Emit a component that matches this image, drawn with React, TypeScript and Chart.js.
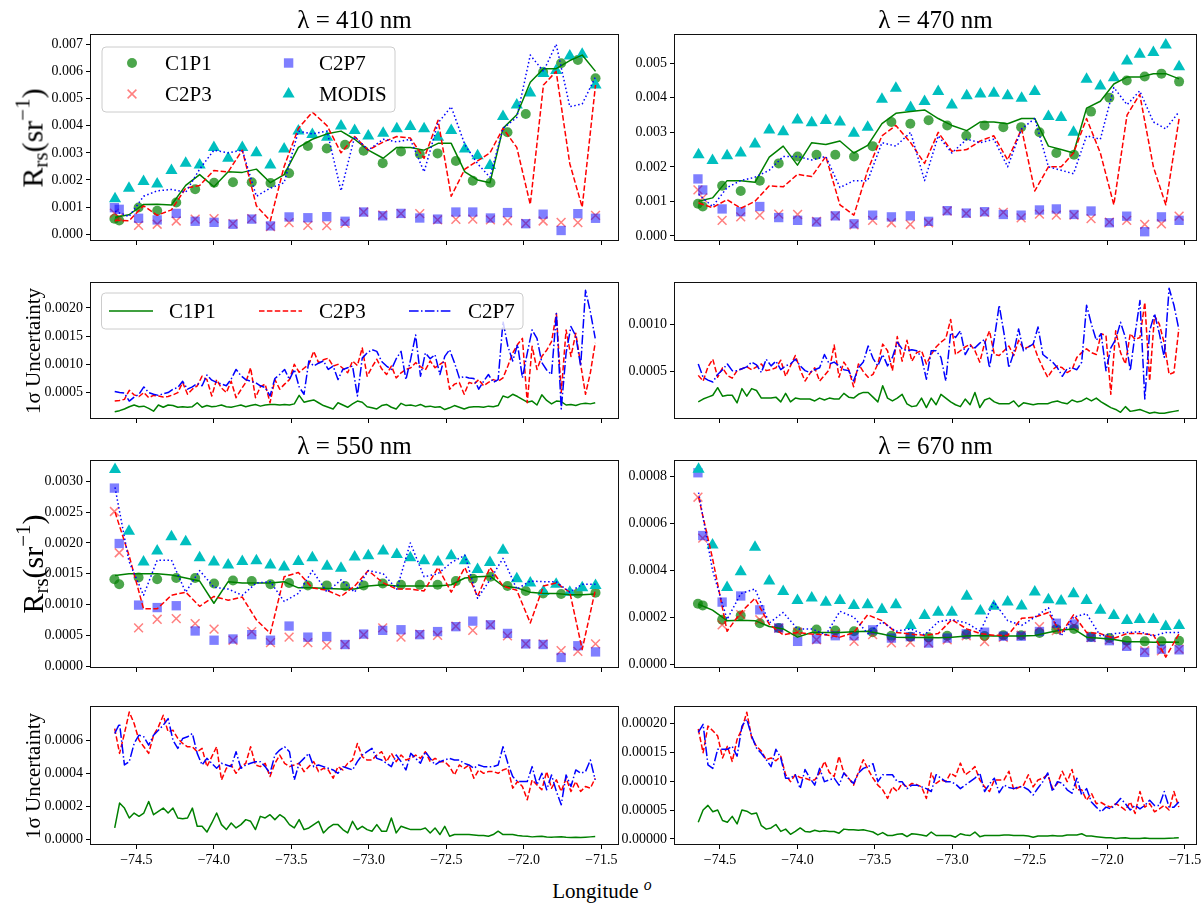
import React, { useEffect, useRef } from "react";
import { Chart, registerables } from "chart.js";

Chart.register(...registerables);

const FONT = '"Liberation Serif", "Times New Roman", Times, serif';

// Longitudes of the in-situ matchup stations and of the MODIS pixels
const STATION_LON = [
  -74.642, -74.611, -74.486, -74.366, -74.243, -74.121, -73.999, -73.877, -73.756, -73.635,
  -73.515, -73.394, -73.272, -73.154, -73.034, -72.911, -72.793, -72.672, -72.557, -72.439,
  -72.33, -72.216, -72.106, -71.988, -71.876, -71.76, -71.652, -71.538,
];
const MODIS_LON = [
  -74.638, -74.548, -74.454, -74.366, -74.274, -74.182, -74.092, -74.0, -73.908, -73.817,
  -73.726, -73.636, -73.547, -73.455, -73.365, -73.27, -73.18, -73.092, -73.004, -72.908,
  -72.82, -72.733, -72.644, -72.554, -72.469, -72.381, -72.299, -72.219, -72.135, -72.046,
  -71.959, -71.874, -71.792, -71.704, -71.624, -71.538,
];
const X_TICKS = [-74.5, -74.0, -73.5, -73.0, -72.5, -72.0, -71.5];

// ---- Rrs at 410 nm (sr^-1) ----
const RRS410_C1P1 = [0.00057, 0.00051, 0.00099, 0.00087, 0.00117, 0.00166, 0.0019, 0.00192, 0.00192, 0.00189, 0.00225, 0.00325, 0.00316, 0.0033, 0.00308, 0.00262, 0.00305, 0.00296, 0.00298, 0.0027, 0.00197, 0.0019, 0.00376, 0.00443, 0.00598, 0.0063, 0.00642, 0.00575];
const RRS410_C2P3 = [0.00078, 0.00062, 0.00033, 0.00037, 0.00049, 0.00056, 0.00058, 0.00039, 0.00058, 0.00028, 0.00043, 0.00033, 0.00032, 0.0004, 0.00082, 0.00071, 0.00076, 0.00076, 0.00053, 0.00055, 0.00056, 0.00053, 0.0005, 0.0004, 0.00049, 0.00044, 0.00043, 0.0007];
const RRS410_C2P7 = [0.00098, 0.00092, 0.00059, 0.00053, 0.00077, 0.00048, 0.00044, 0.00037, 0.00056, 0.00031, 0.00064, 0.00061, 0.00065, 0.00048, 0.00082, 0.00068, 0.00077, 0.0006, 0.00056, 0.00082, 0.00082, 0.0006, 0.0008, 0.00039, 0.00074, 0.00014, 0.00076, 0.00059];
const RRS410_MODIS = [0.00131, 0.0017, 0.00194, 0.00185, 0.00235, 0.00262, 0.00255, 0.0032, 0.0028, 0.0032, 0.003, 0.00255, 0.00314, 0.0038, 0.00368, 0.00357, 0.00399, 0.00382, 0.00362, 0.00372, 0.00389, 0.00397, 0.00389, 0.00357, 0.00382, 0.00314, 0.00289, 0.00253, 0.00434, 0.00476, 0.0052, 0.00592, 0.00603, 0.00657, 0.00663, 0.0055];
const RRS410_PIX_C1P1 = [0.00063, 0.00072, 0.0011, 0.00111, 0.00108, 0.0018, 0.0022, 0.00175, 0.0023, 0.00228, 0.0024, 0.0019, 0.0022, 0.0032, 0.0035, 0.0037, 0.0038, 0.0035, 0.0031, 0.0028, 0.0032, 0.0032, 0.0031, 0.00335, 0.00335, 0.0023, 0.002, 0.0019, 0.0039, 0.0044, 0.0056, 0.0061, 0.0061, 0.0064, 0.0066, 0.006];
const RRS410_PIX_C2P3 = [0.00052, 0.0005, 0.00105, 0.0007, 0.0009, 0.0017, 0.0018, 0.00235, 0.0023, 0.0031, 0.00105, 0.0005, 0.0025, 0.0039, 0.0045, 0.004, 0.003, 0.0036, 0.0031, 0.0034, 0.0036, 0.00355, 0.0028, 0.0042, 0.0014, 0.0024, 0.0027, 0.003, 0.0039, 0.0032, 0.0011, 0.0055, 0.006, 0.0026, 0.001, 0.0055];
const RRS410_PIX_C2P7 = [0.00085, 0.00065, 0.0014, 0.0016, 0.00165, 0.00155, 0.0024, 0.0031, 0.003, 0.0031, 0.0014, 0.0017, 0.0019, 0.0038, 0.0037, 0.0038, 0.0016, 0.0036, 0.0031, 0.0035, 0.0034, 0.0035, 0.0023, 0.0041, 0.0047, 0.0033, 0.0026, 0.0021, 0.0039, 0.0043, 0.0066, 0.006, 0.007, 0.0047, 0.0048, 0.0058];

// ---- Rrs at 470 nm ----
const RRS470_C1P1 = [0.00093, 0.00085, 0.00145, 0.0013, 0.0016, 0.0021, 0.0023, 0.00235, 0.00235, 0.0023, 0.0026, 0.0033, 0.00325, 0.00335, 0.0032, 0.0029, 0.0032, 0.00315, 0.00315, 0.003, 0.0024, 0.00235, 0.0036, 0.004, 0.0045, 0.00462, 0.0047, 0.00447];
const RRS470_C2P3 = [0.00133, 0.0011, 0.00045, 0.00055, 0.0006, 0.00063, 0.00062, 0.00042, 0.00058, 0.00032, 0.00045, 0.00038, 0.00033, 0.00038, 0.00072, 0.00065, 0.00068, 0.00068, 0.00052, 0.00063, 0.0006, 0.0006, 0.0005, 0.0004, 0.00045, 0.00033, 0.00035, 0.00057];
const RRS470_C2P7 = [0.00165, 0.00133, 0.00078, 0.0007, 0.00085, 0.00053, 0.00045, 0.0004, 0.00058, 0.00035, 0.0006, 0.00055, 0.00058, 0.00042, 0.00073, 0.00066, 0.0007, 0.00062, 0.0006, 0.00075, 0.00078, 0.00062, 0.00072, 0.00038, 0.00057, 0.00012, 0.00055, 0.00045];
const RRS470_MODIS = [0.00235, 0.00218, 0.00232, 0.0024, 0.00266, 0.00307, 0.00302, 0.00336, 0.00328, 0.00334, 0.0033, 0.00297, 0.00315, 0.00396, 0.00428, 0.00372, 0.00389, 0.00418, 0.00379, 0.00406, 0.00411, 0.00413, 0.00406, 0.00399, 0.00418, 0.00346, 0.00343, 0.003, 0.00454, 0.00434, 0.00458, 0.00507, 0.00526, 0.00531, 0.00553, 0.0049];
const RRS470_PIX_C1P1 = [0.001, 0.0011, 0.0016, 0.0016, 0.00155, 0.00228, 0.0026, 0.00205, 0.0027, 0.00265, 0.00275, 0.0024, 0.00262, 0.00325, 0.00355, 0.0036, 0.00365, 0.0034, 0.0032, 0.00305, 0.0033, 0.0033, 0.00325, 0.0034, 0.0034, 0.0026, 0.0025, 0.0024, 0.0037, 0.0039, 0.0044, 0.0046, 0.0046, 0.0047, 0.0047, 0.00455];
const RRS470_PIX_C2P3 = [0.00095, 0.00082, 0.00105, 0.0008, 0.001, 0.00145, 0.00142, 0.00178, 0.00172, 0.0023, 0.0009, 0.0006, 0.0019, 0.0029, 0.0032, 0.0027, 0.0021, 0.003, 0.00245, 0.0025, 0.00275, 0.0029, 0.0022, 0.0031, 0.0013, 0.002, 0.002, 0.0024, 0.0034, 0.0024, 0.0009, 0.0035, 0.0041, 0.002, 0.0009, 0.0034];
const RRS470_PIX_C2P7 = [0.0012, 0.00085, 0.0014, 0.0016, 0.0017, 0.0019, 0.0023, 0.0023, 0.0022, 0.0023, 0.0014, 0.0016, 0.0016, 0.0027, 0.0026, 0.003, 0.0016, 0.0029, 0.0024, 0.0028, 0.0027, 0.0028, 0.002, 0.0031, 0.0034, 0.002, 0.0019, 0.0018, 0.0029, 0.0028, 0.0043, 0.0038, 0.0042, 0.0033, 0.0031, 0.0036];

// ---- Rrs at 550 nm ----
const RRS550_C1P1 = [0.00141, 0.00133, 0.00144, 0.00141, 0.00143, 0.00143, 0.00134, 0.00139, 0.00138, 0.00133, 0.00135, 0.00131, 0.00131, 0.0013, 0.00131, 0.00134, 0.00132, 0.00132, 0.00132, 0.00138, 0.00142, 0.00145, 0.0013, 0.00122, 0.00118, 0.00117, 0.00118, 0.00119];
const RRS550_C2P3 = [0.00251, 0.00184, 0.00062, 0.00076, 0.00077, 0.00069, 0.0006, 0.00042, 0.00056, 0.00038, 0.00047, 0.00038, 0.00034, 0.00035, 0.00051, 0.00062, 0.00047, 0.00052, 0.0005, 0.00065, 0.00058, 0.00067, 0.00049, 0.00036, 0.00036, 0.00025, 0.00024, 0.00036];
const RRS550_C2P7 = [0.00289, 0.00199, 0.00099, 0.00095, 0.00098, 0.00057, 0.00042, 0.00044, 0.00051, 0.00042, 0.00065, 0.00047, 0.00048, 0.00035, 0.00052, 0.00058, 0.00059, 0.00051, 0.00056, 0.00064, 0.00073, 0.00067, 0.00053, 0.00036, 0.00035, 0.00014, 0.00033, 0.00023];
const RRS550_MODIS = [0.00319, 0.00219, 0.00169, 0.00187, 0.0021, 0.00202, 0.00176, 0.00169, 0.00164, 0.0017, 0.00171, 0.00164, 0.00161, 0.0017, 0.00176, 0.00162, 0.00159, 0.00177, 0.00179, 0.00187, 0.00181, 0.00176, 0.00171, 0.00169, 0.00179, 0.00171, 0.00157, 0.00168, 0.00188, 0.00142, 0.00135, 0.00121, 0.00133, 0.0012, 0.00127, 0.00131];
const RRS550_PIX_C1P1 = [0.00147, 0.0015, 0.0015, 0.0015, 0.00148, 0.00143, 0.00138, 0.00102, 0.00137, 0.00135, 0.00135, 0.00135, 0.00137, 0.00127, 0.00127, 0.00126, 0.00125, 0.00125, 0.0013, 0.00132, 0.0013, 0.0013, 0.0013, 0.0013, 0.00132, 0.00143, 0.00145, 0.00146, 0.0013, 0.00127, 0.0012, 0.00118, 0.00118, 0.00116, 0.00116, 0.00117];
const RRS550_PIX_C2P3 = [0.0025, 0.0018, 0.00093, 0.00093, 0.00115, 0.0012, 0.00097, 0.00113, 0.00107, 0.00112, 0.00075, 0.00053, 0.00145, 0.00152, 0.00127, 0.00123, 0.00113, 0.0013, 0.00155, 0.00135, 0.00125, 0.00125, 0.00122, 0.0016, 0.0012, 0.0016, 0.00113, 0.0016, 0.0013, 0.00123, 0.0007, 0.0013, 0.00135, 0.0012, 0.00027, 0.00125];
const RRS550_PIX_C2P7 = [0.0029, 0.0017, 0.00115, 0.00172, 0.00172, 0.0012, 0.00155, 0.00128, 0.00125, 0.00115, 0.00135, 0.00137, 0.00105, 0.00118, 0.00155, 0.0012, 0.0014, 0.0012, 0.00155, 0.0015, 0.00125, 0.002, 0.00145, 0.0015, 0.00168, 0.0018, 0.0011, 0.0014, 0.00175, 0.00125, 0.00138, 0.00137, 0.00137, 0.0012, 0.00133, 0.00133];

// ---- Rrs at 670 nm ----
const RRS670_C1P1 = [0.000257, 0.00025, 0.000189, 0.000207, 0.000174, 0.000154, 0.00014, 0.000147, 0.000143, 0.00014, 0.000136, 0.000121, 0.000117, 0.000114, 0.000121, 0.000126, 0.00012, 0.000123, 0.000123, 0.000133, 0.000149, 0.00015, 0.000117, 0.000111, 0.0001, 0.000097, 0.000097, 0.0001];
const RRS670_C2P3 = [0.00071, 0.000536, 0.000167, 0.000211, 0.000189, 0.000153, 0.000136, 0.000104, 0.000129, 0.000097, 0.000126, 0.000091, 0.000093, 0.00009, 0.000104, 0.000121, 0.000096, 0.000114, 0.000123, 0.00016, 0.000143, 0.000164, 0.000113, 0.000103, 0.000079, 0.000057, 0.000057, 0.000064];
const RRS670_C2P7 = [0.000814, 0.000547, 0.000264, 0.00029, 0.000231, 0.000154, 0.000097, 0.000107, 0.000121, 0.000121, 0.000146, 0.000111, 0.000117, 0.00009, 0.000111, 0.000129, 0.000136, 0.000119, 0.000119, 0.000139, 0.000174, 0.000171, 0.000114, 0.0001, 0.000076, 0.00005, 0.000064, 0.000061];
const RRS670_MODIS = [0.000829, 0.000507, 0.000326, 0.000393, 0.000497, 0.000354, 0.000309, 0.000271, 0.000281, 0.000263, 0.000271, 0.00025, 0.000253, 0.000233, 0.000253, 0.000164, 0.000207, 0.000221, 0.000221, 0.000289, 0.000226, 0.000246, 0.000264, 0.000247, 0.000307, 0.000274, 0.000269, 0.0003, 0.000271, 0.000229, 0.000207, 0.000186, 0.00019, 0.00019, 0.00016, 0.000164];
const RRS670_PIX_C1P1 = [0.000255, 0.00023, 0.000185, 0.000187, 0.000185, 0.00016, 0.00015, 0.000115, 0.000135, 0.000135, 0.000135, 0.000138, 0.00014, 0.000128, 0.000115, 0.000113, 0.000113, 0.000112, 0.000114, 0.00012, 0.000122, 0.00012, 0.00012, 0.00012, 0.000122, 0.000135, 0.000145, 0.00015, 0.000115, 0.00011, 0.000105, 0.000095, 0.000095, 0.000093, 0.000094, 0.000093];
const RRS670_PIX_C2P3 = [0.00071, 0.00045, 0.00014, 0.00022, 0.00028, 0.00017, 0.000125, 0.000135, 0.000128, 0.000125, 0.000115, 0.000135, 0.00021, 0.000185, 0.000135, 0.000128, 0.000123, 0.00013, 0.00019, 0.00015, 0.00013, 0.000123, 0.000122, 0.000195, 0.0002, 0.00022, 0.00013, 0.00021, 0.000135, 0.00013, 0.00011, 0.00013, 0.00013, 0.000125, 0.00003, 0.00013];
const RRS670_PIX_C2P7 = [0.00073, 0.0004, 0.00019, 0.0003, 0.00032, 0.000175, 0.00022, 0.00015, 0.00015, 0.000125, 0.000225, 0.0002, 0.00013, 0.00018, 0.00014, 0.00015, 0.000125, 0.00018, 0.00019, 0.000175, 0.00014, 0.000265, 0.000185, 0.000165, 0.0002, 0.00024, 0.00012, 0.0002, 0.000215, 0.00012, 0.00013, 0.000135, 0.000138, 0.00012, 0.000135, 0.000135];

// ---- 1-sigma uncertainty profiles along the transect ----
const UNC_LON_START = -74.64;
const UNC_LON_END = -71.54;
const UNC_COUNT = 100;
const UNC_LON = Array.from({ length: UNC_COUNT }, (_, i) => UNC_LON_START + (i * (UNC_LON_END - UNC_LON_START)) / (UNC_COUNT - 1));

// 410 nm, in units of 1e-4 sr^-1
const UNC410_C1P1 = [1.6, 1.8, 2.1, 2.5, 2.8, 2.5, 2.6, 2.2, 1.7, 2.8, 2.4, 2.8, 2.7, 2.4, 2.5, 2.4, 2.5, 3.2, 2.4, 2.7, 2.5, 2.6, 2.8, 2.5, 2.4, 2.6, 2.8, 2.5, 2.7, 2.9, 2.6, 2.8, 2.9, 2.9, 2.8, 2.9, 2.8, 3.0, 4.5, 3.3, 3.5, 3.7, 3.2, 2.7, 2.4, 2.1, 3.2, 2.8, 2.4, 3.0, 3.5, 3.3, 2.5, 2.3, 2.1, 2.7, 2.9, 2.4, 2.1, 3.1, 2.7, 2.8, 2.6, 2.9, 2.5, 2.6, 2.4, 2.5, 2.0, 2.3, 2.7, 2.4, 2.1, 2.4, 2.5, 2.5, 2.4, 2.6, 2.5, 2.7, 4.4, 4.1, 4.7, 4.3, 3.8, 3.3, 3.5, 2.8, 4.6, 3.6, 3.0, 3.5, 3.4, 2.8, 2.9, 2.7, 3.0, 3.1, 3.0, 3.2];
const UNC410_C2P3 = [3.5, 3.6, 3.8, 5.4, 4.6, 4.3, 5.0, 4.1, 4.5, 4.4, 4.2, 4.3, 4.6, 5.0, 6.8, 4.7, 5.6, 6.2, 7.9, 7.3, 4.4, 7.3, 5.8, 5.0, 7.0, 4.1, 5.5, 6.8, 9.4, 4.1, 6.0, 6.5, 3.2, 7.3, 5.6, 6.5, 7.3, 10.0, 8.6, 9.3, 10.0, 12.3, 10.3, 10.8, 11.1, 9.7, 10.0, 9.3, 8.5, 10.6, 9.8, 12.9, 7.9, 9.5, 10.9, 9.2, 8.2, 9.7, 7.6, 8.5, 9.1, 9.4, 10.3, 9.6, 9.0, 10.6, 9.4, 10.0, 10.6, 5.6, 6.5, 6.8, 4.7, 6.8, 6.5, 7.3, 6.2, 6.8, 7.3, 7.0, 7.6, 9.7, 12.0, 13.5, 14.6, 3.2, 13.2, 9.1, 11.4, 12.5, 14.0, 19.0, 5.0, 16.1, 11.4, 15.5, 10.0, 4.7, 8.5, 13.8];
const UNC410_C2P7 = [5.2, 5.0, 4.9, 3.5, 4.2, 4.7, 6.0, 5.0, 4.7, 4.5, 4.8, 5.0, 5.6, 5.9, 7.0, 5.6, 6.0, 6.6, 6.2, 8.1, 7.2, 6.8, 6.5, 6.2, 7.4, 9.1, 8.0, 7.3, 7.0, 6.8, 6.2, 5.9, 4.4, 7.5, 8.2, 9.1, 7.3, 9.1, 6.0, 4.7, 10.6, 9.7, 10.2, 10.6, 9.1, 9.7, 7.3, 9.1, 9.4, 9.7, 4.4, 11.1, 12.0, 12.6, 12.3, 10.5, 9.7, 9.1, 11.0, 12.3, 7.3, 11.0, 15.2, 7.9, 12.0, 11.0, 11.7, 8.2, 11.4, 12.6, 10.3, 7.6, 7.8, 7.6, 7.5, 5.6, 7.0, 8.2, 6.8, 7.3, 17.6, 13.2, 10.6, 13.5, 7.6, 12.0, 16.1, 14.6, 10.3, 9.0, 8.2, 19.0, 2.1, 12.0, 16.7, 15.0, 9.7, 23.1, 19.3, 14.6];

// 470 nm, in units of 1e-4 sr^-1
const UNC470_C1P1 = [1.8, 2.1, 2.3, 2.5, 3.3, 2.4, 2.5, 2.5, 1.7, 3.2, 2.4, 3.2, 3.0, 2.2, 2.2, 2.2, 2.3, 1.8, 2.7, 1.8, 2.2, 2.1, 2.1, 2.1, 1.9, 2.2, 2.0, 2.2, 2.1, 2.1, 2.7, 2.3, 2.2, 2.6, 2.8, 2.8, 2.3, 1.8, 3.5, 2.2, 1.9, 2.2, 2.6, 1.6, 1.3, 1.4, 2.2, 1.2, 2.2, 1.5, 2.6, 2.2, 1.8, 1.5, 1.3, 2.1, 1.5, 2.8, 1.2, 2.0, 2.2, 1.8, 1.6, 1.6, 1.6, 1.9, 1.3, 1.7, 1.6, 1.5, 1.6, 1.6, 1.6, 1.8, 1.9, 1.7, 1.6, 2.0, 1.8, 1.9, 2.2, 1.9, 2.2, 1.8, 1.5, 1.2, 1.0, 0.7, 1.3, 0.8, 0.9, 1.0, 0.8, 0.6, 0.7, 0.6, 0.6, 0.7, 0.8, 0.9];
const UNC470_C2P3 = [4.6, 4.0, 5.5, 6.3, 4.4, 5.4, 4.6, 4.3, 5.1, 5.3, 5.5, 5.2, 5.5, 5.8, 5.1, 5.2, 5.4, 6.2, 4.5, 5.6, 6.7, 5.2, 4.0, 4.8, 5.4, 4.0, 4.6, 5.2, 7.8, 4.4, 6.0, 5.2, 3.4, 5.8, 5.0, 4.4, 4.7, 5.8, 7.9, 7.2, 5.1, 8.7, 6.1, 8.3, 6.1, 7.0, 7.2, 5.8, 6.8, 7.6, 8.1, 8.5, 10.5, 6.8, 7.2, 7.6, 7.9, 7.2, 6.0, 8.0, 9.3, 6.8, 6.7, 7.2, 7.7, 6.7, 8.3, 7.4, 7.6, 7.9, 6.5, 5.4, 4.4, 5.2, 5.6, 5.4, 4.9, 5.2, 6.5, 7.0, 7.4, 7.0, 6.8, 9.0, 8.8, 2.6, 9.3, 7.0, 5.8, 9.0, 8.4, 8.6, 12.3, 4.0, 10.9, 10.0, 8.0, 4.7, 4.9, 9.5];
const UNC470_C2P7 = [5.8, 4.4, 4.1, 3.9, 4.7, 5.2, 5.8, 5.1, 5.1, 5.3, 5.5, 6.0, 5.7, 4.9, 6.3, 5.6, 6.1, 5.2, 5.6, 5.8, 6.3, 5.6, 5.1, 4.9, 5.2, 5.4, 6.8, 5.8, 6.0, 5.6, 5.2, 5.1, 4.0, 5.4, 6.0, 7.7, 6.4, 5.6, 6.8, 5.6, 6.5, 8.1, 7.4, 7.2, 7.3, 7.2, 6.5, 4.2, 7.2, 7.2, 6.5, 4.0, 9.1, 8.6, 9.3, 6.8, 7.7, 7.5, 8.0, 8.4, 5.4, 8.5, 12.0, 9.0, 5.4, 7.0, 9.5, 7.2, 7.6, 7.9, 9.7, 6.8, 6.4, 6.0, 5.4, 4.5, 5.3, 5.4, 5.2, 6.0, 12.0, 10.0, 8.3, 9.0, 5.1, 7.5, 8.4, 10.2, 8.6, 5.1, 9.0, 12.5, 2.1, 9.3, 11.1, 9.0, 6.5, 13.8, 12.0, 9.5];

// 550 nm, in units of 1e-4 sr^-1
const UNC550_C1P1 = [0.7, 2.2, 1.9, 1.3, 1.6, 1.4, 1.6, 2.3, 1.5, 1.7, 1.9, 1.6, 1.9, 1.3, 1.25, 1.3, 1.9, 0.8, 0.8, 0.45, 1.0, 1.6, 0.9, 0.6, 1.0, 0.7, 0.9, 1.2, 1.1, 0.6, 1.4, 1.3, 1.5, 1.2, 1.5, 1.3, 0.9, 0.7, 1.2, 0.6, 0.7, 0.9, 1.1, 0.4, 0.7, 0.9, 0.9, 0.6, 0.4, 1.1, 0.6, 0.8, 0.6, 0.5, 0.9, 0.5, 0.5, 1.3, 0.4, 0.8, 0.7, 0.6, 0.6, 0.6, 0.7, 0.4, 0.7, 0.3, 0.8, 0.2, 0.3, 0.3, 0.3, 0.3, 0.28, 0.25, 0.25, 0.2, 0.3, 0.5, 0.3, 0.3, 0.3, 0.25, 0.22, 0.2, 0.16, 0.18, 0.2, 0.15, 0.14, 0.16, 0.17, 0.14, 0.12, 0.13, 0.12, 0.14, 0.16, 0.18];
const UNC550_C2P3 = [6.7, 5.2, 6.4, 7.7, 7.0, 6.0, 5.6, 5.2, 6.3, 6.8, 7.5, 6.5, 6.6, 6.1, 5.8, 5.6, 5.6, 5.3, 5.5, 4.4, 5.0, 5.6, 3.6, 4.3, 4.5, 4.0, 4.4, 4.6, 5.6, 4.5, 4.4, 4.6, 3.8, 4.6, 5.1, 4.6, 4.4, 4.5, 4.6, 4.1, 4.4, 4.7, 4.1, 4.3, 4.2, 3.7, 4.4, 4.2, 4.6, 4.8, 5.8, 5.0, 4.8, 4.8, 5.1, 5.3, 4.7, 5.2, 4.7, 5.1, 4.8, 4.9, 5.1, 4.9, 5.3, 4.7, 4.9, 4.7, 4.7, 4.4, 3.9, 4.5, 4.3, 4.5, 3.7, 4.2, 4.0, 4.1, 4.1, 4.0, 4.2, 4.3, 3.1, 3.5, 3.2, 2.4, 3.6, 3.3, 3.0, 4.1, 3.1, 3.6, 2.9, 3.7, 2.9, 3.5, 2.9, 3.2, 3.1, 3.7];
const UNC550_C2P7 = [6.4, 7.0, 4.5, 4.7, 5.8, 6.3, 6.2, 5.7, 6.3, 6.6, 6.9, 7.3, 6.0, 5.5, 6.1, 6.2, 6.4, 5.2, 4.5, 4.9, 4.6, 4.3, 4.6, 4.5, 4.4, 5.3, 4.3, 4.5, 4.6, 4.7, 4.7, 4.4, 4.0, 5.1, 5.4, 5.6, 5.3, 3.6, 4.6, 4.9, 5.2, 4.4, 4.5, 4.4, 4.3, 4.2, 4.0, 4.4, 4.3, 4.2, 4.7, 5.1, 5.3, 5.5, 4.9, 4.8, 4.6, 4.4, 5.1, 4.7, 4.2, 5.2, 4.9, 4.6, 5.3, 4.9, 4.5, 4.7, 4.8, 4.9, 4.8, 4.8, 4.6, 4.5, 4.3, 4.5, 4.4, 4.4, 4.4, 4.5, 5.6, 4.6, 3.8, 3.5, 3.5, 3.5, 4.4, 3.3, 4.0, 3.0, 3.9, 2.9, 2.1, 3.9, 3.2, 4.2, 4.0, 4.1, 4.8, 3.6];

// 670 nm, in units of 1e-5 sr^-1
const UNC670_C1P1 = [2.9, 5.0, 5.8, 4.7, 5.0, 3.2, 2.9, 3.9, 2.6, 5.0, 4.8, 4.3, 4.5, 2.3, 1.7, 1.9, 2.5, 1.3, 1.7, 0.8, 1.3, 1.9, 1.3, 1.2, 1.5, 1.3, 1.4, 1.3, 1.3, 1.0, 1.7, 1.6, 1.6, 1.5, 1.6, 1.4, 1.2, 0.7, 1.1, 0.6, 0.6, 0.8, 0.9, 0.4, 0.9, 0.8, 0.7, 0.5, 1.2, 0.6, 0.6, 0.6, 0.6, 0.3, 0.9, 0.7, 0.6, 1.2, 0.4, 0.6, 0.6, 0.6, 0.6, 0.7, 0.7, 0.6, 0.6, 0.6, 0.5, 0.3, 0.5, 0.5, 0.5, 0.6, 0.5, 0.5, 0.7, 0.7, 0.7, 0.9, 0.5, 0.5, 0.4, 0.3, 0.2, 0.2, 0.1, 0.15, 0.2, 0.1, 0.06, 0.1, 0.17, 0.1, 0.06, 0.08, 0.1, 0.12, 0.15, 0.2];
const UNC670_C2P3 = [19.0, 14.9, 19.5, 18.7, 17.8, 14.0, 16.0, 13.4, 17.2, 19.0, 21.9, 17.5, 16.0, 15.2, 13.7, 14.0, 13.5, 14.3, 11.1, 9.9, 11.1, 10.6, 10.5, 10.2, 10.2, 11.4, 13.4, 11.5, 10.8, 14.3, 11.4, 10.5, 9.3, 11.5, 13.7, 12.0, 10.5, 9.3, 8.5, 7.0, 9.0, 8.2, 9.6, 9.0, 9.6, 9.4, 9.0, 7.0, 11.4, 9.6, 10.2, 9.9, 11.4, 10.8, 13.1, 11.1, 11.7, 12.5, 10.2, 9.0, 8.2, 10.2, 10.2, 10.2, 11.7, 8.5, 8.9, 9.3, 11.1, 9.0, 10.2, 10.5, 11.1, 8.7, 9.6, 11.7, 9.9, 12.0, 8.5, 8.5, 6.7, 7.9, 6.1, 6.3, 5.8, 5.5, 6.1, 5.6, 5.0, 6.4, 4.4, 8.2, 5.5, 6.1, 4.7, 5.2, 5.8, 5.0, 8.2, 5.5];
const UNC670_C2P7 = [18.4, 19.8, 12.8, 12.2, 15.5, 15.5, 15.5, 16.0, 14.3, 19.5, 20.7, 17.8, 15.7, 14.8, 13.7, 12.5, 15.5, 14.0, 10.5, 10.5, 11.1, 8.7, 12.0, 10.5, 9.3, 12.2, 9.9, 10.2, 10.5, 9.3, 11.4, 10.4, 9.6, 11.4, 12.2, 12.5, 13.0, 9.9, 11.1, 11.1, 11.1, 9.9, 9.9, 8.7, 9.3, 9.3, 9.0, 8.7, 8.2, 11.1, 10.5, 9.9, 9.9, 9.5, 8.7, 9.3, 9.9, 10.5, 11.4, 8.2, 9.5, 10.5, 8.0, 9.3, 8.9, 8.7, 9.0, 9.0, 8.5, 7.6, 8.8, 9.9, 11.4, 8.2, 9.9, 9.6, 8.5, 7.9, 10.5, 7.6, 8.7, 6.4, 5.5, 4.7, 5.5, 5.2, 6.0, 7.0, 6.1, 5.0, 5.8, 5.2, 5.8, 6.7, 5.8, 5.8, 8.2, 5.5, 5.5, 6.4];

// ---- styling ----
const GREEN = "#008000";
const RED = "#ff0000";
const BLUE = "#0000ff";
const C1P1_FILL = "rgba(0, 128, 0, 0.7)";
const C2P3_STROKE = "rgba(255, 0, 0, 0.5)";
const C2P7_FILL = "rgba(0, 0, 255, 0.5)";
const MODIS_FILL = "rgba(0, 191, 191, 1)";
const DASH = [5.5, 2.4];
const DOT = [1.5, 2.5];
const DASH_DOT = [9.6, 2.4, 1.5, 2.4];

const Y_AXIS_W = 70;
const PAD_TOP = 12;
const PAD_RIGHT = 14;

const toPoints = (xs: number[], ys: number[], unit = 1) => xs.map((x, i) => ({ x, y: ys[i] * unit }));

function rrsDatasets(c1: number[], c3: number[], c7: number[], modis: number[], p1: number[], p3: number[], p7: number[]) {
  const line = { pointRadius: 0, pointHoverRadius: 0, borderWidth: 1.5, fill: false, tension: 0, borderJoinStyle: "round" };
  const marker = { showLine: false, pointBorderWidth: 0, pointHoverRadius: 0 };
  return [
    { ...line, label: "C2P7 pixel", data: toPoints(MODIS_LON, p7), borderColor: BLUE, borderDash: DOT, order: 1 },
    { ...line, label: "C2P3 pixel", data: toPoints(MODIS_LON, p3), borderColor: RED, borderDash: DASH, order: 2 },
    { ...line, label: "C1P1 pixel", data: toPoints(MODIS_LON, p1), borderColor: GREEN, order: 3 },
    { ...marker, label: "MODIS", data: toPoints(MODIS_LON, modis), pointStyle: "triangle", pointRadius: 7, pointBackgroundColor: MODIS_FILL, order: 4 },
    { ...marker, label: "C2P7", data: toPoints(STATION_LON, c7), pointStyle: "rect", pointRadius: 6.6, pointBackgroundColor: C2P7_FILL, order: 5 },
    { ...marker, label: "C2P3", data: toPoints(STATION_LON, c3), pointStyle: "crossRot", pointRadius: 6.2, pointBorderColor: C2P3_STROKE, pointBorderWidth: 1.5, order: 6 },
    { ...marker, label: "C1P1", data: toPoints(STATION_LON, c1), pointStyle: "circle", pointRadius: 5, pointBackgroundColor: C1P1_FILL, order: 7 },
  ];
}

function uncDatasets(c1: number[], c3: number[], c7: number[], unit: number) {
  const line = { pointRadius: 0, pointHoverRadius: 0, borderWidth: 1.5, fill: false, tension: 0, borderJoinStyle: "round" };
  return [
    { ...line, label: "C2P7", data: toPoints(UNC_LON, c7, unit), borderColor: BLUE, borderDash: DASH_DOT, order: 1 },
    { ...line, label: "C2P3", data: toPoints(UNC_LON, c3, unit), borderColor: RED, borderDash: DASH, order: 2 },
    { ...line, label: "C1P1", data: toPoints(UNC_LON, c1, unit), borderColor: GREEN, order: 3 },
  ];
}

type PanelSpec = {
  id: string;
  left: number;
  top: number;
  width: number;
  height: number;
  xMin: number;
  xMax: number;
  yMin: number;
  yMax: number;
  yTicks: number[];
  yDecimals: number;
  showXLabels: boolean;
  legend: "markers" | "lines" | null;
  datasets: any[];
};

const LEFT_COL = { left: 91, width: 527, xMin: -74.793, xMax: -71.393 };
const RIGHT_COL = { left: 675, width: 521, xMin: -74.79, xMax: -71.429 };
const ROW1 = { top: 35, height: 205 };
const ROW2 = { top: 283, height: 135 };
const ROW3 = { top: 461, height: 206 };
const ROW4 = { top: 707, height: 137 };

const PANELS: PanelSpec[] = [
  {
    id: "rrs410", ...LEFT_COL, ...ROW1, yMin: -0.00021, yMax: 0.00734,
    yTicks: [0, 0.001, 0.002, 0.003, 0.004, 0.005, 0.006, 0.007], yDecimals: 3, showXLabels: false, legend: "markers",
    datasets: rrsDatasets(RRS410_C1P1, RRS410_C2P3, RRS410_C2P7, RRS410_MODIS, RRS410_PIX_C1P1, RRS410_PIX_C2P3, RRS410_PIX_C2P7),
  },
  {
    id: "rrs470", ...RIGHT_COL, ...ROW1, yMin: -0.00012, yMax: 0.00582,
    yTicks: [0, 0.001, 0.002, 0.003, 0.004, 0.005], yDecimals: 3, showXLabels: false, legend: null,
    datasets: rrsDatasets(RRS470_C1P1, RRS470_C2P3, RRS470_C2P7, RRS470_MODIS, RRS470_PIX_C1P1, RRS470_PIX_C2P3, RRS470_PIX_C2P7),
  },
  {
    id: "unc410", ...LEFT_COL, ...ROW2, yMin: 0.00005, yMax: 0.00244,
    yTicks: [0.0005, 0.001, 0.0015, 0.002], yDecimals: 4, showXLabels: false, legend: "lines",
    datasets: uncDatasets(UNC410_C1P1, UNC410_C2P3, UNC410_C2P7, 1e-4),
  },
  {
    id: "unc470", ...RIGHT_COL, ...ROW2, yMin: 0.00001, yMax: 0.001435,
    yTicks: [0.0005, 0.001], yDecimals: 4, showXLabels: false, legend: null,
    datasets: uncDatasets(UNC470_C1P1, UNC470_C2P3, UNC470_C2P7, 1e-4),
  },
  {
    id: "rrs550", ...LEFT_COL, ...ROW3, yMin: -0.000015, yMax: 0.00333,
    yTicks: [0, 0.0005, 0.001, 0.0015, 0.002, 0.0025, 0.003], yDecimals: 4, showXLabels: false, legend: null,
    datasets: rrsDatasets(RRS550_C1P1, RRS550_C2P3, RRS550_C2P7, RRS550_MODIS, RRS550_PIX_C1P1, RRS550_PIX_C2P3, RRS550_PIX_C2P7),
  },
  {
    id: "rrs670", ...RIGHT_COL, ...ROW3, yMin: -0.000012, yMax: 0.000864,
    yTicks: [0, 0.0002, 0.0004, 0.0006, 0.0008], yDecimals: 4, showXLabels: false, legend: null,
    datasets: rrsDatasets(RRS670_C1P1, RRS670_C2P3, RRS670_C2P7, RRS670_MODIS, RRS670_PIX_C1P1, RRS670_PIX_C2P3, RRS670_PIX_C2P7),
  },
  {
    id: "unc550", ...LEFT_COL, ...ROW4, yMin: -0.000027, yMax: 0.0008,
    yTicks: [0, 0.0002, 0.0004, 0.0006], yDecimals: 4, showXLabels: true, legend: null,
    datasets: uncDatasets(UNC550_C1P1, UNC550_C2P3, UNC550_C2P7, 1e-4),
  },
  {
    id: "unc670", ...RIGHT_COL, ...ROW4, yMin: -0.0000087, yMax: 0.000228,
    yTicks: [0, 0.00005, 0.0001, 0.00015, 0.0002], yDecimals: 5, showXLabels: true, legend: null,
    datasets: uncDatasets(UNC670_C1P1, UNC670_C2P3, UNC670_C2P7, 1e-5),
  },
];

// Axes frame on all four sides
const framePlugin = {
  id: "frame",
  afterDatasetsDraw(chart: any) {
    const { ctx, chartArea: a } = chart;
    ctx.save();
    ctx.strokeStyle = "#111";
    ctx.lineWidth = 1;
    ctx.strokeRect(Math.round(a.left) - 0.5, Math.round(a.top) - 0.5, Math.round(a.right - a.left) + 1, Math.round(a.bottom - a.top) + 1);
    ctx.restore();
  },
};

function roundRect(ctx: CanvasRenderingContext2D, x: number, y: number, w: number, h: number, r: number) {
  ctx.beginPath();
  ctx.moveTo(x + r, y);
  ctx.lineTo(x + w - r, y);
  ctx.quadraticCurveTo(x + w, y, x + w, y + r);
  ctx.lineTo(x + w, y + h - r);
  ctx.quadraticCurveTo(x + w, y + h, x + w - r, y + h);
  ctx.lineTo(x + r, y + h);
  ctx.quadraticCurveTo(x, y + h, x, y + h - r);
  ctx.lineTo(x, y + r);
  ctx.quadraticCurveTo(x, y, x + r, y);
  ctx.closePath();
}

function drawMarker(ctx: CanvasRenderingContext2D, kind: string, x: number, y: number) {
  ctx.save();
  if (kind === "circle") {
    ctx.fillStyle = C1P1_FILL;
    ctx.beginPath();
    ctx.arc(x, y, 5, 0, Math.PI * 2);
    ctx.fill();
  } else if (kind === "cross") {
    const d = 4.4;
    ctx.strokeStyle = C2P3_STROKE;
    ctx.lineWidth = 1.5;
    ctx.beginPath();
    ctx.moveTo(x - d, y - d);
    ctx.lineTo(x + d, y + d);
    ctx.moveTo(x - d, y + d);
    ctx.lineTo(x + d, y - d);
    ctx.stroke();
  } else if (kind === "square") {
    const s = 4.7;
    ctx.fillStyle = C2P7_FILL;
    ctx.fillRect(x - s, y - s, 2 * s, 2 * s);
  } else if (kind === "triangle") {
    const r = 7;
    ctx.fillStyle = MODIS_FILL;
    ctx.beginPath();
    ctx.moveTo(x, y - r);
    ctx.lineTo(x + r * 0.866, y + r * 0.5);
    ctx.lineTo(x - r * 0.866, y + r * 0.5);
    ctx.closePath();
    ctx.fill();
  }
  ctx.restore();
}

const MARKER_LEGEND = [
  { kind: "circle", label: "C1P1", mx: 30, tx: 63, y: 16 },
  { kind: "cross", label: "C2P3", mx: 30, tx: 63, y: 47 },
  { kind: "square", label: "C2P7", mx: 186.6, tx: 217, y: 16 },
  { kind: "triangle", label: "MODIS", mx: 186.6, tx: 217, y: 47 },
];
const LINE_LEGEND = [
  { color: GREEN, dash: [] as number[], label: "C1P1", x0: 7.5, x1: 51.5, tx: 67.5 },
  { color: RED, dash: DASH, label: "C2P3", x0: 157.5, x1: 200.5, tx: 217.5 },
  { color: BLUE, dash: DASH_DOT, label: "C2P7", x0: 307.5, x1: 350.5, tx: 366.5 },
];

const legendPlugin = {
  id: "panelLegend",
  afterDraw(chart: any, _args: any, opts: any) {
    const kind = opts && opts.kind;
    if (!kind) return;
    const { ctx, chartArea: a } = chart;
    ctx.save();
    const box = kind === "markers" ? { x: 11, y: 12, w: 293, h: 65 } : { x: 10.5, y: 10, w: 421.5, h: 36 };
    const bx = a.left + box.x;
    const by = a.top + box.y;
    roundRect(ctx, bx, by, box.w, box.h, 4);
    ctx.fillStyle = "rgba(255,255,255,0.8)";
    ctx.fill();
    ctx.strokeStyle = "#cccccc";
    ctx.lineWidth = 1;
    ctx.stroke();
    ctx.font = `21px ${FONT}`;
    ctx.fillStyle = "#000";
    ctx.textBaseline = "middle";
    ctx.textAlign = "left";
    if (kind === "markers") {
      MARKER_LEGEND.forEach((e) => {
        drawMarker(ctx, e.kind, bx + e.mx, by + e.y);
        ctx.fillText(e.label, bx + e.tx, by + e.y + 1);
      });
    } else {
      LINE_LEGEND.forEach((e) => {
        ctx.save();
        ctx.strokeStyle = e.color;
        ctx.lineWidth = 1.5;
        ctx.setLineDash(e.dash);
        ctx.beginPath();
        ctx.moveTo(bx + e.x0, by + 18);
        ctx.lineTo(bx + e.x1, by + 18);
        ctx.stroke();
        ctx.restore();
        ctx.fillText(e.label, bx + e.tx, by + 19);
      });
    }
    ctx.restore();
  },
};

const fmtLon = (v: number) => (v < 0 ? "\u2212" : "") + Math.abs(v).toFixed(1);

function buildConfig(spec: PanelSpec, xAxisH: number): any {
  const tickFont = { family: FONT, size: 14 };
  const grid = { display: true, drawOnChartArea: false, drawTicks: true, tickLength: 5, tickColor: "#000", tickWidth: 1, color: "#000" };
  return {
    type: "line",
    data: { datasets: spec.datasets },
    options: {
      animation: false,
      responsive: false,
      maintainAspectRatio: false,
      events: [],
      layout: { padding: { top: PAD_TOP, right: PAD_RIGHT, left: 0, bottom: 0 } },
      plugins: {
        legend: { display: false },
        tooltip: { enabled: false },
        title: { display: false },
        panelLegend: { kind: spec.legend },
      },
      scales: {
        x: {
          type: "linear",
          min: spec.xMin,
          max: spec.xMax,
          afterBuildTicks: (s: any) => {
            s.ticks = X_TICKS.map((v) => ({ value: v }));
          },
          afterFit: (s: any) => {
            s.height = xAxisH;
          },
          ticks: {
            display: spec.showXLabels,
            autoSkip: false,
            maxRotation: 0,
            padding: 3,
            color: "#000",
            font: tickFont,
            callback: (v: number) => fmtLon(Number(v)),
          },
          grid,
          border: { display: false },
        },
        y: {
          type: "linear",
          min: spec.yMin,
          max: spec.yMax,
          afterBuildTicks: (s: any) => {
            s.ticks = spec.yTicks.map((v) => ({ value: v }));
          },
          afterFit: (s: any) => {
            s.width = Y_AXIS_W;
          },
          ticks: {
            autoSkip: false,
            padding: 3,
            color: "#000",
            font: tickFont,
            callback: (v: number) => Number(v).toFixed(spec.yDecimals),
          },
          grid,
          border: { display: false },
        },
      },
    },
    plugins: [framePlugin, legendPlugin],
  };
}

function Panel({ spec }: { spec: PanelSpec }) {
  const ref = useRef<HTMLCanvasElement>(null);
  const xAxisH = spec.showXLabels ? 28 : 12;
  const w = spec.width + Y_AXIS_W + PAD_RIGHT;
  const h = spec.height + PAD_TOP + xAxisH;
  useEffect(() => {
    if (!ref.current) return;
    const chart = new Chart(ref.current, buildConfig(spec, xAxisH));
    return () => chart.destroy();
  }, [spec, xAxisH]);
  return (
    <canvas
      ref={ref}
      width={w}
      height={h}
      style={{ position: "absolute", left: spec.left - Y_AXIS_W, top: spec.top - PAD_TOP, width: w, height: h }}
    />
  );
}

function Title({ cx, baseline, text }: { cx: number; baseline: number; text: string }) {
  const size = 25;
  return (
    <div
      style={{
        position: "absolute",
        left: cx,
        top: baseline - 0.84 * size,
        transform: "translateX(-50%)",
        fontSize: size,
        lineHeight: `${size}px`,
        whiteSpace: "nowrap",
      }}
    >
      {text}
    </div>
  );
}

function VLabel({ cx, cy, size, children }: { cx: number; cy: number; size: number; children: React.ReactNode }) {
  return (
    <div
      style={{
        position: "absolute",
        left: cx,
        top: cy,
        transform: "translate(-50%, -50%) rotate(-90deg)",
        fontSize: size,
        lineHeight: `${size}px`,
        whiteSpace: "nowrap",
      }}
    >
      {children}
    </div>
  );
}

function RrsLabel() {
  return (
    <span>
      R<span style={{ fontSize: "0.7em", position: "relative", top: "0.25em" }}>rs</span>(sr
      <span style={{ fontSize: "0.7em", position: "relative", top: "-0.6em" }}>{"\u2212"}1</span>)
    </span>
  );
}

export default function App() {
  const leftCx = LEFT_COL.left + LEFT_COL.width / 2;
  const rightCx = RIGHT_COL.left + RIGHT_COL.width / 2;
  return (
    <div
      style={{
        position: "absolute",
        left: 0,
        top: 0,
        width: 1203,
        height: 904,
        background: "#fff",
        color: "#000",
        fontFamily: FONT,
        overflow: "hidden",
      }}
    >
      {PANELS.map((p) => (
        <Panel key={p.id} spec={p} />
      ))}
      <Title cx={leftCx} baseline={28} text={"\u03bb = 410 nm"} />
      <Title cx={rightCx} baseline={28} text={"\u03bb = 470 nm"} />
      <Title cx={leftCx} baseline={454} text={"\u03bb = 550 nm"} />
      <Title cx={rightCx} baseline={454} text={"\u03bb = 670 nm"} />
      <VLabel cx={34} cy={ROW1.top + ROW1.height / 2} size={30}>
        <RrsLabel />
      </VLabel>
      <VLabel cx={34} cy={ROW3.top + ROW3.height / 2} size={30}>
        <RrsLabel />
      </VLabel>
      <VLabel cx={33} cy={ROW2.top + ROW2.height / 2} size={21}>
        {"1\u03c3 Uncertainty"}
      </VLabel>
      <VLabel cx={33} cy={ROW4.top + ROW4.height / 2} size={21}>
        {"1\u03c3 Uncertainty"}
      </VLabel>
      <div
        style={{
          position: "absolute",
          left: 602,
          top: 899 - 0.84 * 21,
          transform: "translateX(-50%)",
          fontSize: 21,
          lineHeight: "21px",
          whiteSpace: "nowrap",
        }}
      >
        Longitude{" "}
        <span style={{ fontStyle: "italic", fontSize: "0.75em", position: "relative", top: "-0.5em" }}>o</span>
      </div>
    </div>
  );
}
